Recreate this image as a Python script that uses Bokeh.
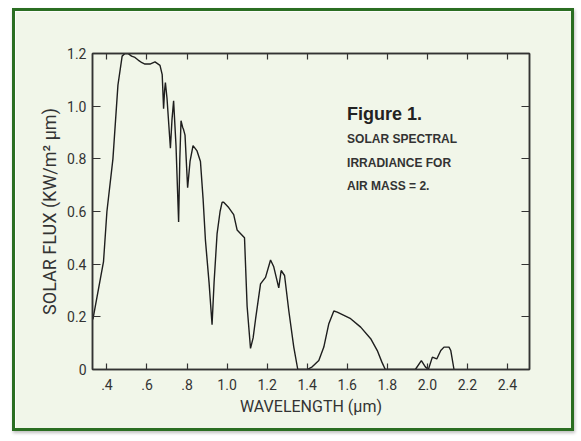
from bokeh.plotting import figure
from bokeh.models import FixedTicker, LinearAxis, Label, Range1d
from bokeh.embed import file_html
from bokeh.resources import INLINE

# Wavelength (µm) and solar flux (KW/m² µm)
wavelength = [0.33, 0.383, 0.40, 0.43, 0.455, 0.476, 0.49, 0.505, 0.523, 0.54,
              0.556, 0.575, 0.59, 0.615, 0.64, 0.665, 0.676, 0.683, 0.688, 0.692,
              0.70, 0.717, 0.725, 0.733, 0.745, 0.758, 0.764, 0.77, 0.778, 0.783,
              0.79, 0.803, 0.815, 0.83, 0.85, 0.867, 0.88, 0.892, 0.91, 0.925,
              0.935, 0.95, 0.965, 0.975, 0.983, 1.008, 1.033, 1.05, 1.075, 1.087,
              1.10, 1.117, 1.13, 1.142, 1.167, 1.192, 1.217, 1.233, 1.258, 1.27,
              1.287, 1.308, 1.333, 1.353, 1.40, 1.425, 1.458, 1.483, 1.508, 1.533,
              1.55, 1.617, 1.667, 1.717, 1.75, 1.773, 1.79, 1.94, 1.97, 1.99,
              2.005, 2.025, 2.047, 2.067, 2.083, 2.108, 2.117, 2.133]
flux = [0.19, 0.41, 0.60, 0.80, 1.08, 1.19, 1.20, 1.20, 1.19, 1.185,
        1.175, 1.165, 1.16, 1.16, 1.168, 1.155, 1.12, 0.99, 1.06, 1.09,
        1.03, 0.84, 0.95, 1.02, 0.85, 0.56, 0.80, 0.945, 0.92, 0.91,
        0.89, 0.69, 0.79, 0.85, 0.83, 0.79, 0.65, 0.49, 0.33, 0.17,
        0.33, 0.515, 0.60, 0.635, 0.635, 0.615, 0.588, 0.53, 0.51, 0.50,
        0.24, 0.08, 0.12, 0.19, 0.325, 0.35, 0.416, 0.39, 0.31, 0.376,
        0.357, 0.224, 0.085, 0.0, 0.0, 0.01, 0.034, 0.085, 0.174, 0.222,
        0.218, 0.193, 0.161, 0.117, 0.072, 0.028, 0.0, 0.0, 0.034, 0.01,
        0.0, 0.047, 0.04, 0.072, 0.085, 0.085, 0.072, 0.0]

x_ticks = [0.4, 0.6, 0.8, 1.0, 1.2, 1.4, 1.6, 1.8, 2.0, 2.2, 2.4]
x_tick_labels = [".4", ".6", ".8", "1.0", "1.2", "1.4", "1.6", "1.8", "2.0", "2.2", "2.4"]
y_ticks = [0.0, 0.2, 0.4, 0.6, 0.8, 1.0, 1.2]
y_tick_labels = ["0", "0.2", "0.4", "0.6", "0.8", "1.0", "1.2"]
note_lines = ["SOLAR SPECTRAL", "IRRADIANCE FOR", "AIR MASS = 2."]

BG = "#f1f6e9"
INK = "#333333"
TICK_FONT = "Roboto"

p = figure(width=562, height=423, output_backend="svg", toolbar_location=None,
           x_range=Range1d(0.328, 2.51), y_range=Range1d(0, 1.2),
           min_border_left=77, min_border_right=48, min_border_top=42,
           min_border_bottom=65)
p.styles = {"border": "3px solid #2b6e22", "margin-left": "12px", "margin-top": "8px",
            "box-shadow": "1px 2px 3px rgba(0,0,0,0.25)"}
p.background_fill_color = BG
p.border_fill_color = BG
p.grid.visible = False
p.outline_line_color = INK
p.outline_line_width = 1.5

p.line(wavelength, flux, line_color="#1e1e1e", line_width=1.4)

# bottom axis
xa = p.xaxis[0]
xa.ticker = FixedTicker(ticks=x_ticks)
xa.major_label_overrides = {t: s for t, s in zip(x_ticks, x_tick_labels)}
xa.major_tick_in = 6
xa.major_tick_out = 0
xa.minor_tick_line_color = None
xa.axis_line_color = INK
xa.axis_line_width = 1.5
xa.major_tick_line_color = INK
xa.major_tick_line_width = 1.2
xa.major_label_text_font = TICK_FONT
xa.major_label_text_font_size = "14px"
xa.major_label_text_color = "#333333"
xa.major_label_standoff = 9
xa.axis_label = "WAVELENGTH (µm)"
xa.axis_label_text_font = TICK_FONT
xa.axis_label_text_font_size = "16px"
xa.axis_label_text_font_style = "normal"
xa.axis_label_text_color = "#333333"
xa.axis_label_standoff = 4

# left axis
ya = p.yaxis[0]
ya.ticker = FixedTicker(ticks=y_ticks)
ya.major_label_overrides = {t: s for t, s in zip(y_ticks, y_tick_labels)}
ya.major_tick_in = 8
ya.major_tick_out = 0
ya.minor_tick_line_color = None
ya.axis_line_color = INK
ya.axis_line_width = 1.5
ya.major_tick_line_color = INK
ya.major_tick_line_width = 1.2
ya.major_label_text_font = TICK_FONT
ya.major_label_text_font_size = "14px"
ya.major_label_text_color = "#333333"
ya.major_label_standoff = 6
ya.axis_label = "SOLAR FLUX (KW/m² µm)"
ya.axis_label_text_font = TICK_FONT
ya.axis_label_text_font_size = "18px"
ya.axis_label_text_font_style = "normal"
ya.axis_label_text_color = "#333333"
ya.axis_label_standoff = 4

# top axis (ticks only)
top = LinearAxis(ticker=FixedTicker(ticks=x_ticks), major_tick_in=6, major_tick_out=0,
                 minor_tick_line_color=None, major_label_text_alpha=0,
                 major_label_text_font_size="1px", axis_line_color=INK,
                 axis_line_width=1.5, major_tick_line_color=INK, major_tick_line_width=1.2)
p.add_layout(top, "above")

# right axis (ticks only)
right = LinearAxis(ticker=FixedTicker(ticks=y_ticks[1:-1]), major_tick_in=8, major_tick_out=0,
                   minor_tick_line_color=None, major_label_text_alpha=0,
                   major_label_text_font_size="1px", axis_line_color=INK,
                   axis_line_width=1.5, major_tick_line_color=INK, major_tick_line_width=1.2)
p.add_layout(right, "right")

# annotation text
p.add_layout(Label(x=1.599, y=0.972, text="Figure 1.", text_font="Liberation Sans",
                   text_font_style="bold", text_font_size="18px", text_color="#222222",
                   text_baseline="middle", text_align="left"))
for i, line in enumerate(note_lines):
    p.add_layout(Label(x=1.599, y=0.877 - i * 0.091, text=line, text_font="Liberation Sans",
                       text_font_style="bold", text_font_size="12px", text_color="#333333",
                       text_baseline="middle", text_align="left"))

open("out.html", "w").write(file_html(p, INLINE))
